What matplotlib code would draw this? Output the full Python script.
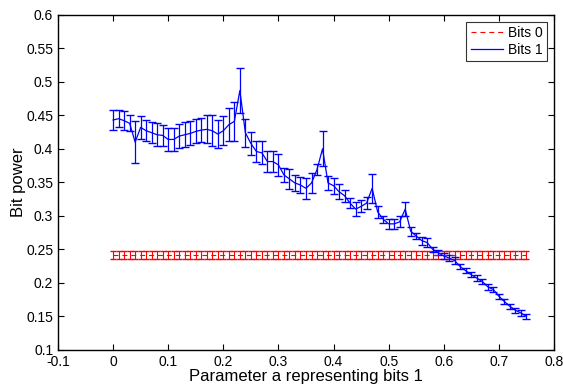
import numpy as np
import matplotlib
matplotlib.use("Agg")
import matplotlib.pyplot as plt
from matplotlib.lines import Line2D

plt.rcParams["font.family"] = ["Liberation Sans", "DejaVu Sans"]

# parameter a, 0 .. 0.75 in steps of 0.01
a = np.round(np.linspace(0, 0.75, 76), 2)

bits1_mean = [
    0.443, 0.445, 0.442, 0.438, 0.410, 0.432, 0.427, 0.424, 0.421, 0.420,
    0.414, 0.414, 0.419, 0.421, 0.423, 0.426, 0.428, 0.429, 0.427, 0.422,
    0.427, 0.436, 0.441, 0.487, 0.424, 0.408, 0.396, 0.394, 0.381, 0.381,
    0.376, 0.361, 0.355, 0.349, 0.346, 0.341, 0.349, 0.369, 0.400, 0.349,
    0.345, 0.336, 0.330, 0.319, 0.310, 0.314, 0.319, 0.341, 0.306, 0.295,
    0.288, 0.288, 0.291, 0.310, 0.277, 0.270, 0.263, 0.260, 0.250, 0.245,
    0.240, 0.237, 0.233, 0.224, 0.218, 0.212, 0.207, 0.202, 0.194, 0.190,
    0.180, 0.172, 0.165, 0.159, 0.155, 0.150,
]
bits1_err = [
    0.0145, 0.013, 0.014, 0.012, 0.031, 0.017, 0.016, 0.016, 0.017, 0.016,
    0.017, 0.017, 0.018, 0.019, 0.018, 0.018, 0.018, 0.021, 0.023, 0.021,
    0.022, 0.025, 0.029, 0.0335, 0.021, 0.017, 0.016, 0.017, 0.016, 0.016,
    0.016, 0.011, 0.015, 0.012, 0.012, 0.016, 0.015, 0.008, 0.026, 0.011,
    0.012, 0.011, 0.009, 0.007, 0.010, 0.009, 0.009, 0.022, 0.009, 0.005,
    0.007, 0.007, 0.008, 0.011, 0.007, 0.005, 0.006, 0.007, 0.004, 0.004,
    0.004, 0.004, 0.005, 0.004, 0.004, 0.004, 0.004, 0.004, 0.004, 0.004,
    0.004, 0.004, 0.004, 0.004, 0.004, 0.004,
]
bits0_mean = [0.2415] * 76
bits0_err = [0.0065] * 76

fig = plt.figure(figsize=(5.63, 3.9), dpi=100)
ax = fig.add_axes([0.103, 0.103, 0.881, 0.859])

dash = (0, (4.5, 3.5))
ax.errorbar(a, bits0_mean, yerr=bits0_err, color="red", linestyle=dash,
            linewidth=0.8, elinewidth=0.8, capsize=2.5)
ax.errorbar(a, bits1_mean, yerr=bits1_err, color="blue", linestyle="-",
            linewidth=0.9, elinewidth=0.9, capsize=3.2)

ax.set_xlim(-0.1, 0.8)
ax.set_ylim(0.1, 0.6)
ax.set_xticks(np.round(np.arange(-0.1, 0.81, 0.1), 1))
ax.set_xticklabels(["-0.1", "0", "0.1", "0.2", "0.3", "0.4", "0.5", "0.6", "0.7", "0.8"])
ax.set_yticks(np.round(np.arange(0.1, 0.61, 0.05), 2))
ax.set_yticklabels(["0.1", "0.15", "0.2", "0.25", "0.3", "0.35", "0.4",
                    "0.45", "0.5", "0.55", "0.6"])
ax.tick_params(direction="in", top=True, right=True, labelsize=10, length=4)
for s in ax.spines.values():
    s.set_linewidth(1.0)

ax.set_xlabel("Parameter a representing bits 1", fontsize=12, labelpad=0)
ax.set_ylabel("Bit power", fontsize=12)
ax.yaxis.set_label_coords(-0.064, 0.5)

handles = [Line2D([], [], color="red", linestyle=dash, linewidth=0.8),
           Line2D([], [], color="blue", linestyle="-", linewidth=0.9)]
leg = ax.legend(handles, ["Bits 0", "Bits 1"], loc="upper right", fontsize=10,
                frameon=True, fancybox=False, edgecolor="black",
                handlelength=2.3, borderpad=0.3, labelspacing=0.2,
                handletextpad=0.4, borderaxespad=0.5)
leg.get_frame().set_linewidth(0.8)

fig.savefig("out.png", dpi=100)
